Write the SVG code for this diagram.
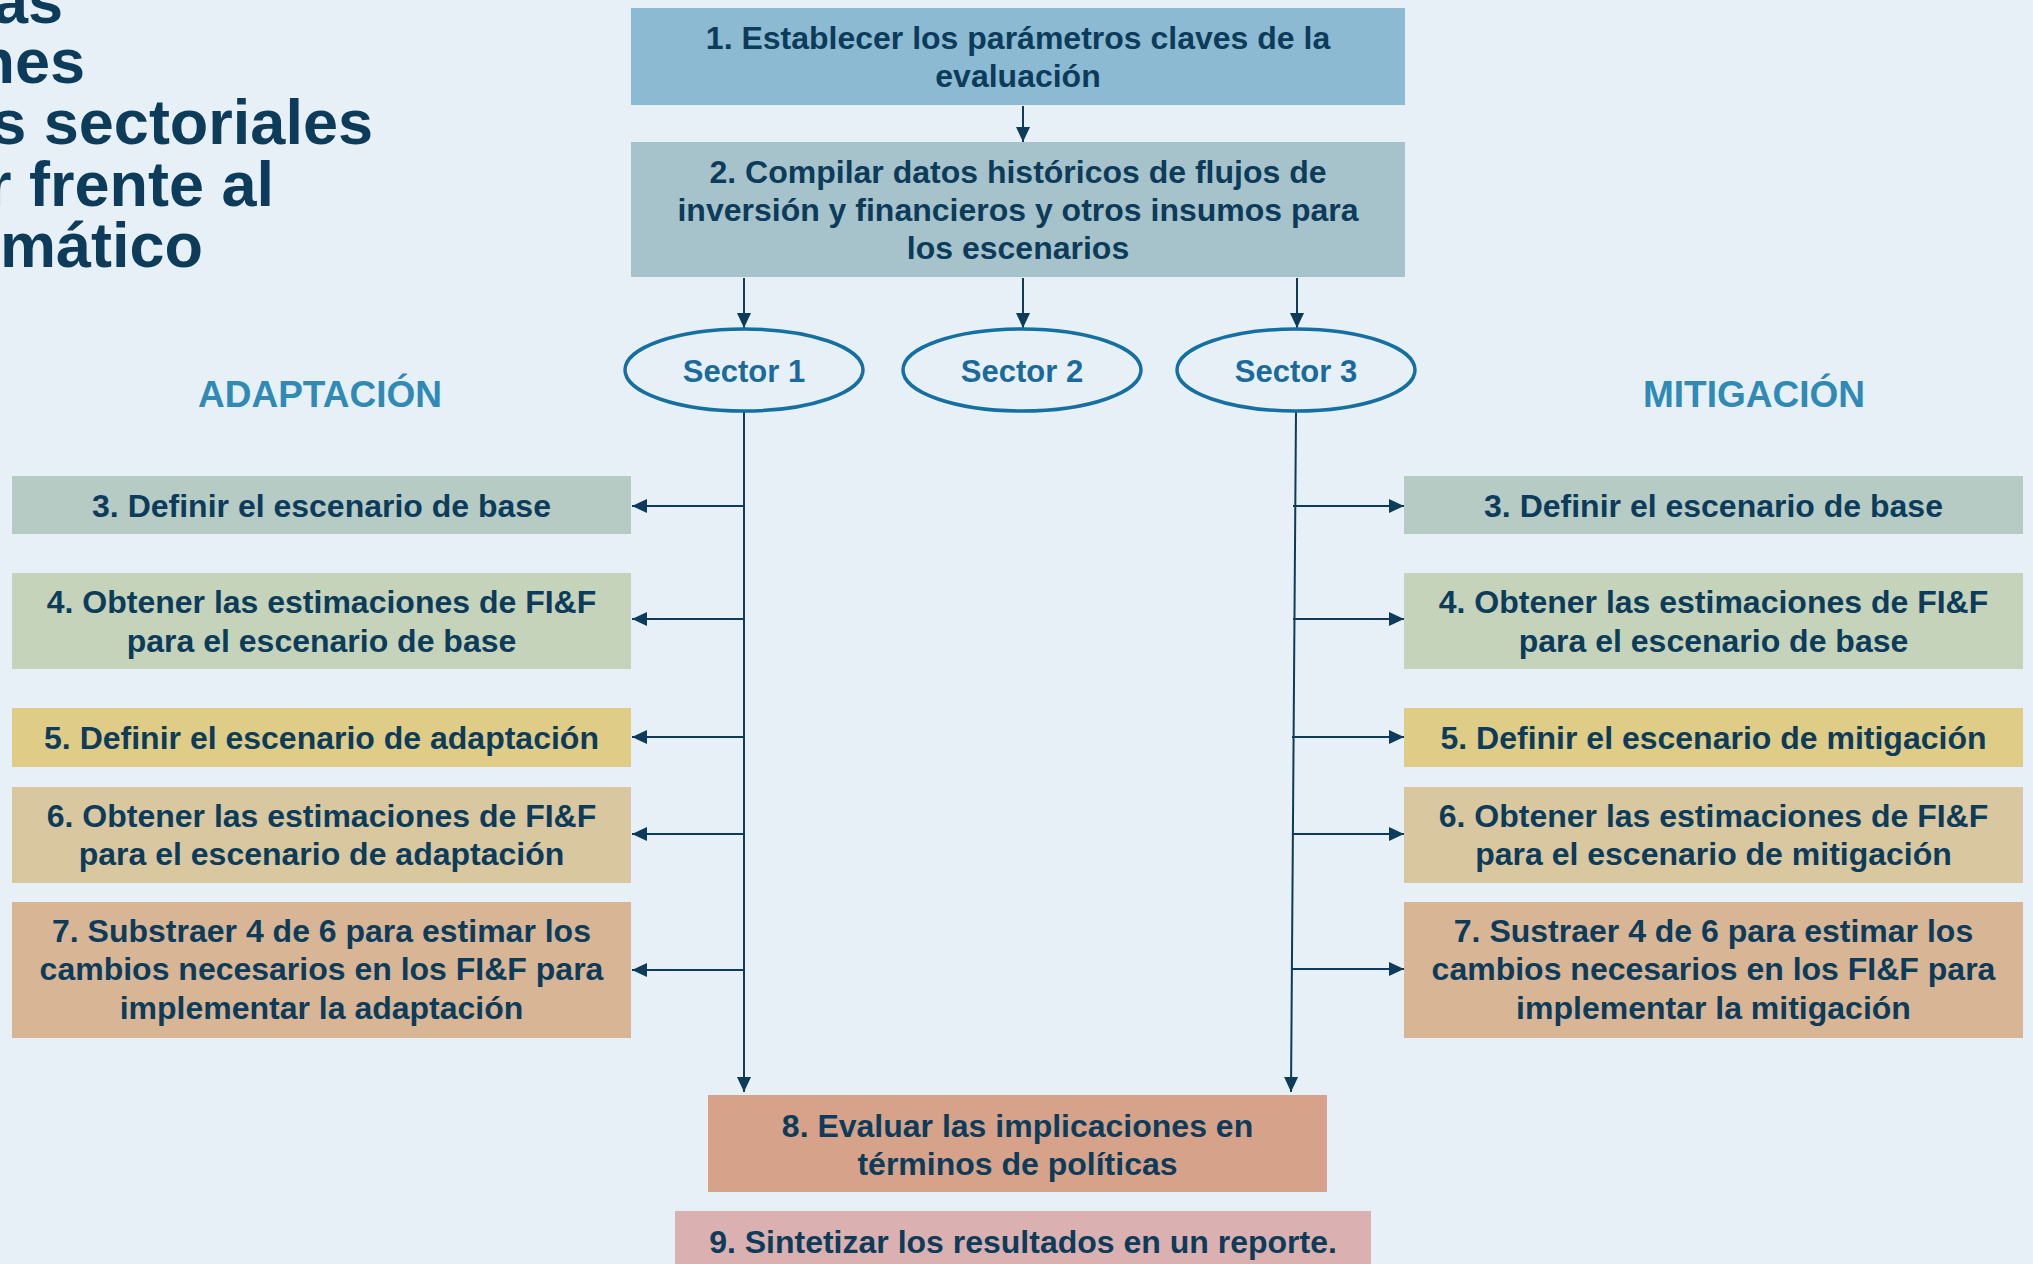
<svg xmlns="http://www.w3.org/2000/svg" width="2033" height="1264" viewBox="0 0 2033 1264">
<style>
.bg{fill:#e7f0f6}
.t{font-family:"Liberation Sans",Arial,sans-serif;font-weight:bold;font-size:32px;fill:#0d3b5a;text-anchor:middle}
.title{font-family:"Liberation Sans",Arial,sans-serif;font-weight:bold;font-size:63px;fill:#0d3b5a;text-anchor:end}
.hd{font-family:"Liberation Sans",Arial,sans-serif;font-weight:bold;font-size:37px;fill:#2f8ab6;text-anchor:middle}
.sec{font-family:"Liberation Sans",Arial,sans-serif;font-weight:bold;font-size:31px;fill:#1a6a9c;text-anchor:middle}
.ell{fill:none;stroke:#146fa2;stroke-width:3.5}
.c{fill:none;stroke:#0d3b5a;stroke-width:2;marker-end:url(#ah)}
</style>
<defs>
<marker id="ah" markerUnits="userSpaceOnUse" markerWidth="16" markerHeight="16" viewBox="0 0 16 16" refX="15" refY="8" orient="auto">
<path d="M0,1 L15,8 L0,15 Z" fill="#0d3b5a"/>
</marker>
</defs>
<rect class="bg" x="0" y="0" width="2033" height="1264"/>

<g id="title">
<text class="title" x="63" y="23">as</text>
<text class="title" x="85" y="83">nes</text>
<text class="title" x="373" y="144">s sectoriales</text>
<text class="title" x="274" y="206">r frente al</text>
<text class="title" x="203" y="267">mático</text>
</g>

<g id="hd-adapt"><text class="hd" x="320" y="407">ADAPTACIÓN</text></g>
<g id="hd-mitig"><text class="hd" x="1754" y="407">MITIGACIÓN</text></g>

<g id="connectors">
<line class="c" x1="1023" y1="106" x2="1023" y2="142"/>
<line class="c" x1="744" y1="278" x2="744" y2="328"/>
<line class="c" x1="1023" y1="278" x2="1023" y2="328"/>
<line class="c" x1="1297" y1="278" x2="1297" y2="328"/>
<line class="c" x1="744" y1="411" x2="744" y2="1092"/>
<line class="c" x1="1296" y1="411" x2="1291" y2="1092"/>
<line class="c" x1="744" y1="506" x2="632" y2="506"/>
<line class="c" x1="744" y1="619" x2="632" y2="619"/>
<line class="c" x1="744" y1="737" x2="632" y2="737"/>
<line class="c" x1="744" y1="834" x2="632" y2="834"/>
<line class="c" x1="744" y1="970" x2="632" y2="970"/>
<line class="c" x1="1293" y1="506" x2="1404" y2="506"/>
<line class="c" x1="1293" y1="619" x2="1404" y2="619"/>
<line class="c" x1="1292" y1="737" x2="1404" y2="737"/>
<line class="c" x1="1292" y1="834" x2="1404" y2="834"/>
<line class="c" x1="1291" y1="969" x2="1404" y2="969"/>
</g>

<g id="n1"><rect x="631" y="8" width="774" height="97" fill="#8bbad2"/>
<text class="t" x="1018" y="49">1. Establecer los parámetros claves de la</text>
<text class="t" x="1018" y="87">evaluación</text></g>

<g id="n2"><rect x="631" y="142" width="774" height="135" fill="#a6c3cb"/>
<text class="t" x="1018" y="183">2. Compilar datos históricos de flujos de</text>
<text class="t" x="1018" y="221">inversión y financieros y otros insumos para</text>
<text class="t" x="1018" y="259">los escenarios</text></g>

<g id="s1"><ellipse class="ell" cx="744" cy="370" rx="119" ry="41"/><text class="sec" x="744" y="382">Sector 1</text></g>
<g id="s2"><ellipse class="ell" cx="1022" cy="370" rx="119" ry="41"/><text class="sec" x="1022" y="382">Sector 2</text></g>
<g id="s3"><ellipse class="ell" cx="1296" cy="370" rx="119" ry="41"/><text class="sec" x="1296" y="382">Sector 3</text></g>

<g id="a3"><rect x="12" y="476" width="619" height="58" fill="#b5cbc4"/>
<text class="t" x="321.5" y="517">3. Definir el escenario de base</text></g>
<g id="a4"><rect x="12" y="573" width="619" height="96" fill="#c5d3bb"/>
<text class="t" x="321.5" y="613">4. Obtener las estimaciones de FI&amp;F</text>
<text class="t" x="321.5" y="652">para el escenario de base</text></g>
<g id="a5"><rect x="12" y="708" width="619" height="59" fill="#dfcc86"/>
<text class="t" x="321.5" y="749">5. Definir el escenario de adaptación</text></g>
<g id="a6"><rect x="12" y="787" width="619" height="96" fill="#d8c79f"/>
<text class="t" x="321.5" y="827">6. Obtener las estimaciones de FI&amp;F</text>
<text class="t" x="321.5" y="865">para el escenario de adaptación</text></g>
<g id="a7"><rect x="12" y="902" width="619" height="136" fill="#d8b594"/>
<text class="t" x="321.5" y="942">7. Substraer 4 de 6 para estimar los</text>
<text class="t" x="321.5" y="980">cambios necesarios en los FI&amp;F para</text>
<text class="t" x="321.5" y="1019">implementar la adaptación</text></g>

<g id="m3"><rect x="1404" y="476" width="619" height="58" fill="#b5cbc4"/>
<text class="t" x="1713.5" y="517">3. Definir el escenario de base</text></g>
<g id="m4"><rect x="1404" y="573" width="619" height="96" fill="#c5d3bb"/>
<text class="t" x="1713.5" y="613">4. Obtener las estimaciones de FI&amp;F</text>
<text class="t" x="1713.5" y="652">para el escenario de base</text></g>
<g id="m5"><rect x="1404" y="708" width="619" height="59" fill="#dfcc86"/>
<text class="t" x="1713.5" y="749">5. Definir el escenario de mitigación</text></g>
<g id="m6"><rect x="1404" y="787" width="619" height="96" fill="#d8c79f"/>
<text class="t" x="1713.5" y="827">6. Obtener las estimaciones de FI&amp;F</text>
<text class="t" x="1713.5" y="865">para el escenario de mitigación</text></g>
<g id="m7"><rect x="1404" y="902" width="619" height="136" fill="#d8b594"/>
<text class="t" x="1713.5" y="942">7. Sustraer 4 de 6 para estimar los</text>
<text class="t" x="1713.5" y="980">cambios necesarios en los FI&amp;F para</text>
<text class="t" x="1713.5" y="1019">implementar la mitigación</text></g>

<g id="n8"><rect x="708" y="1095" width="619" height="97" fill="#d6a289"/>
<text class="t" x="1017.5" y="1137">8. Evaluar las implicaciones en</text>
<text class="t" x="1017.5" y="1175">términos de políticas</text></g>
<g id="n9"><rect x="675" y="1211" width="696" height="60" fill="#dbb0b0"/>
<text class="t" x="1023" y="1253">9. Sintetizar los resultados en un reporte.</text></g>
</svg>
